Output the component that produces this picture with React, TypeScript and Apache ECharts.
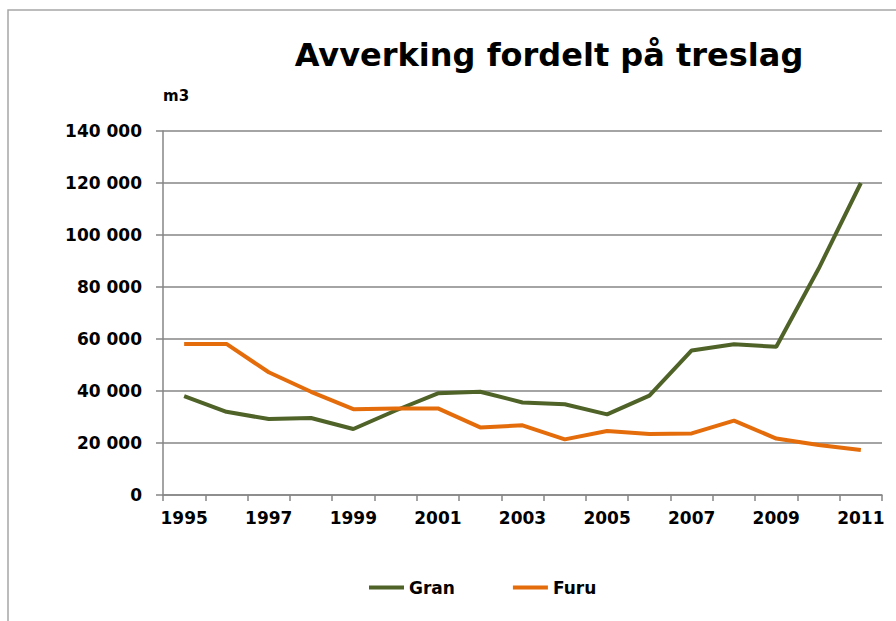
import React, { useEffect, useRef } from "react";
import * as echarts from "echarts";

const years = ["1995","1996","1997","1998","1999","2000","2001","2002","2003","2004","2005","2006","2007","2008","2009","2010","2011"];
const gran = [38000, 32000, 29200, 29600, 25400, 32500, 39100, 39700, 35600, 34900, 31000, 38200, 55600, 58000, 57000, 87000, 120000];
const furu = [58100, 58100, 47200, 39700, 33000, 33300, 33300, 26000, 26800, 21400, 24600, 23500, 23700, 28600, 21700, 19200, 17300];
const seriesNames = ["Gran", "Furu"];
const titleText = "Avverking fordelt på treslag";
const unitText = "m3";

const FONT = "'DejaVu Sans', Verdana, sans-serif";

function fmt(v: number): string {
  return String(v).replace(/\B(?=(\d{3})+(?!\d))/g, " ");
}

export default function App() {
  const ref = useRef<HTMLDivElement>(null);
  useEffect(() => {
    if (!ref.current) return;
    const chart = echarts.init(ref.current, undefined, { renderer: "svg" });
    chart.setOption({
      animation: false,
      backgroundColor: "#ffffff",
      title: {
        text: titleText,
        left: 549,
        top: 39,
        padding: 0,
        textAlign: "center",
        textStyle: { fontFamily: FONT, fontWeight: "bold", fontSize: 32, color: "#000" },
      },
      graphic: [
        {
          type: "rect",
          silent: true,
          shape: { x: 8, y: 10, width: 900, height: 620 },
          style: { fill: "none", stroke: "#a6a6a6", lineWidth: 1.5 },
        },
        {
          type: "text",
          left: 163,
          top: 88,
          style: { text: unitText, fontFamily: FONT, fontWeight: "bold", fontSize: 15, fill: "#000" },
        },
      ],
      legend: {
        left: 364,
        top: 574,
        icon: "rect",
        itemWidth: 35,
        itemHeight: 4,
        itemGap: 58,
        data: seriesNames,
        textStyle: { fontFamily: FONT, fontWeight: "bold", fontSize: 17, color: "#000" },
      },
      grid: { left: 163, right: 14, top: 131, bottom: 126, containLabel: false },
      xAxis: {
        type: "category",
        data: years,
        boundaryGap: true,
        axisLine: { lineStyle: { color: "#868686", width: 1.5 } },
        axisTick: { show: true, length: 6, interval: 0, lineStyle: { color: "#868686", width: 1.5 } },
        axisLabel: { interval: 1, margin: 14, fontFamily: FONT, fontWeight: "bold", fontSize: 17, color: "#000" },
        splitLine: { show: false },
      },
      yAxis: {
        type: "value",
        min: 0,
        max: 140000,
        interval: 20000,
        axisLine: { show: true, lineStyle: { color: "#868686", width: 1.5 } },
        axisTick: { show: true, length: 7, lineStyle: { color: "#868686", width: 1.5 } },
        axisLabel: { margin: 21, formatter: (v: number) => fmt(v), fontFamily: FONT, fontWeight: "bold", fontSize: 17, color: "#000" },
        splitLine: { show: true, lineStyle: { color: "#868686", width: 1.5 } },
      },
      series: [
        {
          name: seriesNames[0],
          type: "line",
          data: gran,
          symbol: "none",
          color: "#4F6228",
          itemStyle: { color: "#4F6228" },
          lineStyle: { color: "#4F6228", width: 4 },
        },
        {
          name: seriesNames[1],
          type: "line",
          data: furu,
          symbol: "none",
          color: "#E46C0A",
          itemStyle: { color: "#E46C0A" },
          lineStyle: { color: "#E46C0A", width: 4 },
        },
      ],
    });
    return () => chart.dispose();
  }, []);
  return <div ref={ref} style={{ position: "fixed", left: 0, top: 0, width: 896, height: 621 }} />;
}
